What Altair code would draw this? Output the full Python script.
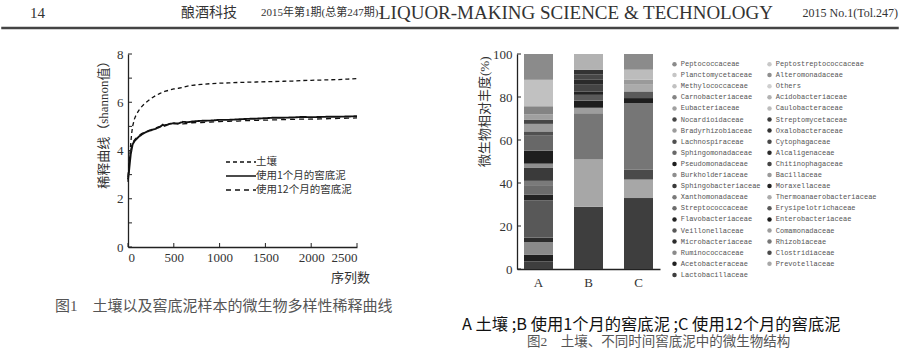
import altair as alt
import pandas as pd

# ---------------- Figure 1 data: rarefaction curves ----------------
seq_x = [0, 10, 20, 30, 40, 50, 60, 70, 80, 100, 120, 150, 180, 200, 250, 300, 350, 380,
         400, 450, 500, 550, 600, 650, 700, 800, 900, 1000, 1100, 1200, 1300, 1400, 1500,
         1600, 1700, 1800, 1900, 2000, 2100, 2200, 2300, 2400, 2500]
soil = [2.7, 3.3, 3.8, 4.3, 4.7, 5.0, 5.15, 5.3, 5.4, 5.55, 5.67, 5.82, 5.94, 6.0, 6.15, 6.27,
        6.37, 6.42, 6.45, 6.5, 6.55, 6.58, 6.62, 6.67, 6.7, 6.74, 6.77, 6.79, 6.8, 6.82, 6.83,
        6.84, 6.85, 6.86, 6.87, 6.88, 6.9, 6.91, 6.92, 6.93, 6.94, 6.96, 6.98]
mud_1m = [2.8, 3.1, 3.5, 3.85, 4.05, 4.25, 4.32, 4.38, 4.43, 4.5, 4.58, 4.66, 4.73, 4.77, 4.84,
          4.9, 4.98, 5.07, 5.02, 5.1, 5.13, 5.12, 5.19, 5.17, 5.2, 5.23, 5.24, 5.27, 5.27, 5.29,
          5.31, 5.32, 5.34, 5.36, 5.36, 5.37, 5.39, 5.38, 5.39, 5.4, 5.4, 5.41, 5.42]
mud_12m = [2.9, 3.3, 3.7, 4.0, 4.2, 4.3, 4.38, 4.43, 4.48, 4.55, 4.62, 4.7, 4.76, 4.8, 4.86,
           4.93, 5.0, 5.05, 5.06, 5.08, 5.12, 5.1, 5.1, 5.12, 5.15, 5.16, 5.18, 5.2, 5.21, 5.22,
           5.24, 5.25, 5.26, 5.27, 5.28, 5.29, 5.3, 5.3, 5.31, 5.32, 5.33, 5.34, 5.35]
series_names = ["土壤", "使用1个月的窖底泥", "使用12个月的窖底泥"]
x_tick_vals = [0, 500, 1000, 1500, 2000, 2500]
y_tick_vals = [0, 1, 2, 3, 4, 5, 6, 7, 8]

# ---------------- Figure 2 data: community structure ----------------
samples = ["A", "B", "C"]
legend_col1 = ["Peptococcaceae", "Planctomycetaceae", "Methylococcaceae", "Carnobacteriaceae",
               "Eubacteriaceae", "Nocardioidaceae", "Bradyrhizobiaceae", "Lachnospiraceae",
               "Sphingomonadaceae", "Pseudomonadaceae", "Burkholderiaceae", "Sphingobacteriaceae",
               "Xanthomonadaceae", "Streptococcaceae", "Flavobacteriaceae", "Veillonellaceae",
               "Microbacteriaceae", "Ruminococcaceae", "Acetobacteraceae", "Lactobacillaceae"]
legend_col2 = ["Peptostreptococcaceae", "Alteromonadaceae", "Others", "Acidobacteriaceae",
               "Caulobacteraceae", "Streptomycetaceae", "Oxalobacteraceae", "Cytophagaceae",
               "Alcaligenaceae", "Chitinophagaceae", "Bacillaceae", "Moraxellaceae",
               "Thermoanaerobacteriaceae", "Erysipelotrichaceae", "Enterobacteriaceae",
               "Comamonadaceae", "Rhizobiaceae", "Clostridiaceae", "Prevotellaceae"]

# stacking order, bottom -> top
stack_order = ["Lactobacillaceae", "Acetobacteraceae", "Ruminococcaceae", "Microbacteriaceae",
               "Veillonellaceae", "Flavobacteriaceae", "Streptococcaceae", "Xanthomonadaceae",
               "Sphingobacteriaceae", "Burkholderiaceae", "Pseudomonadaceae", "Sphingomonadaceae",
               "Lachnospiraceae", "Bradyrhizobiaceae", "Nocardioidaceae", "Eubacteriaceae",
               "Carnobacteriaceae", "Prevotellaceae", "Clostridiaceae", "Rhizobiaceae",
               "Comamonadaceae", "Enterobacteriaceae", "Erysipelotrichaceae",
               "Thermoanaerobacteriaceae", "Moraxellaceae", "Bacillaceae", "Chitinophagaceae",
               "Alcaligenaceae", "Cytophagaceae", "Oxalobacteraceae", "Caulobacteraceae",
               "Acidobacteriaceae", "Streptomycetaceae", "Others", "Alteromonadaceae",
               "Peptostreptococcaceae", "Methylococcaceae", "Planctomycetaceae", "Peptococcaceae"]
abund_A = [3.5, 3.2, 5.8, 2.0, 17.5, 2.5, 4.5, 2.0, 6.0, 2.0, 6.0, 7.0, 2.0, 3.5, 2.0, 2.5, 3.7,
           0, 0, 0, 0, 0, 0, 0, 0, 0, 0, 0, 0, 0, 0, 0, 0, 0, 0, 0, 12.3, 0, 12.0]
abund_B = [29.0, 0, 0, 0, 0, 0, 0, 0, 0, 0, 0, 0, 0, 0, 0, 0, 0,
           21.9, 0, 21.6, 2.5, 3.3, 2.7, 0, 1.6, 0, 3.1, 2.3, 2.4, 2.3, 0, 7.3, 0, 0, 0, 0, 0, 0, 0]
abund_C = [33.0, 0, 0, 0, 0, 0, 0, 0, 0, 0, 0, 0, 0, 0, 0, 0, 0,
           8.6, 4.6, 31.0, 0, 2.3, 3.1, 3.1, 0, 2.3, 0, 0, 0, 0, 4.7, 0, 0, 0, 0, 0, 0, 0, 7.3]
family_gray = {
    "Lactobacillaceae": "#3e3e3e", "Acetobacteraceae": "#202020", "Ruminococcaceae": "#8a8a8a",
    "Microbacteriaceae": "#2c2c2c", "Veillonellaceae": "#585858", "Flavobacteriaceae": "#232323",
    "Streptococcaceae": "#6c6c6c", "Xanthomonadaceae": "#7a7a7a", "Sphingobacteriaceae": "#3a3a3a",
    "Burkholderiaceae": "#8e8e8e", "Pseudomonadaceae": "#1e1e1e", "Sphingomonadaceae": "#686868",
    "Lachnospiraceae": "#505050", "Bradyrhizobiaceae": "#9b9b9b", "Nocardioidaceae": "#464646",
    "Eubacteriaceae": "#a0a0a0", "Carnobacteriaceae": "#848484", "Prevotellaceae": "#a7a7a7",
    "Clostridiaceae": "#4a4a4a", "Rhizobiaceae": "#767676", "Comamonadaceae": "#9d9d9d",
    "Enterobacteriaceae": "#1d1d1d", "Erysipelotrichaceae": "#5a5a5a",
    "Thermoanaerobacteriaceae": "#ababab", "Moraxellaceae": "#232323", "Bacillaceae": "#9a9a9a",
    "Chitinophagaceae": "#444444", "Alcaligenaceae": "#2a2a2a", "Cytophagaceae": "#474747",
    "Oxalobacteraceae": "#333333", "Caulobacteraceae": "#bcbcbc", "Acidobacteriaceae": "#b2b2b2",
    "Streptomycetaceae": "#3c3c3c", "Others": "#cfcfcf", "Alteromonadaceae": "#8f8f8f",
    "Peptostreptococcaceae": "#c8c8c8", "Methylococcaceae": "#c1c1c1",
    "Planctomycetaceae": "#c6c6c6", "Peptococcaceae": "#8b8b8b",
}
bar_y_ticks = [0, 20, 40, 60, 80, 100]

# ---------------- text ----------------
page_no = "14"
head_journal = "酿酒科技"
head_issue = "2015年第1期(总第247期)-"
head_title = "LIQUOR-MAKING SCIENCE & TECHNOLOGY"
head_right = "2015 No.1(Tol.247)"
cap1 = "图1\u3000土壤以及窖底泥样本的微生物多样性稀释曲线"
cap2a = "A 土壤 ;B 使用1个月的窖底泥 ;C 使用12个月的窖底泥"
cap2b = "图2\u3000土壤、不同时间窖底泥中的微生物结构"

SERIF = "Liberation Serif, Noto Sans CJK SC"
CJK = "Noto Sans CJK SC"
MONO = "Liberation Mono"

# ---------------- build tables ----------------
rows = []
for name, ys in zip(series_names, [soil, mud_1m, mud_12m]):
    for x, y in zip(seq_x, ys):
        rows.append({"seq": x, "shannon": y, "series": name})
line_df = pd.DataFrame(rows)

bar_rows = []
for s, vals in zip(samples, [abund_A, abund_B, abund_C]):
    for rank, (fam, v) in enumerate(zip(stack_order, vals)):
        bar_rows.append({"sample": s, "family": fam, "abundance": v, "rank": rank})
bar_df = pd.DataFrame(bar_rows)

legend_order = legend_col1 + legend_col2          # Vega fills legend columns top-down
legend_colors = [family_gray[f] for f in legend_order]

one = alt.Data(values=[{"k": 1}])


def label(text, x, y, font, size, color, align="left"):
    return alt.Chart(one).mark_text(text=text, font=font, fontSize=size, color=color,
                                    align=align, baseline="middle").encode(
        x=alt.value(x), y=alt.value(y))


# origin of every pixel value below = top-left of figure 1's plot area (128, 54)
# ---------------- figure 1 ----------------
W1, H1 = 229, 193
dash_scale = alt.Scale(domain=series_names, range=[[4, 3], [1, 0], [5, 4]])
x1 = alt.X("seq:Q", scale=alt.Scale(domain=[0, 2500], nice=False),
           axis=alt.Axis(values=x_tick_vals, format="d", title="序列数", titleX=222, titleY=30,
                         titleAlign="center", titleBaseline="middle", labelPadding=4,
                         ticks=False, tickSize=0, grid=False))
y1 = alt.Y("shannon:Q", scale=alt.Scale(domain=[0, 8], nice=False),
           axis=alt.Axis(values=y_tick_vals, title="稀释曲线（shannon值）", titleX=-25, titleY=0,
                         titleAlign="right", titleBaseline="middle", titleAngle=270,
                         labelPadding=5, ticks=False, tickSize=0, grid=False))
dash_enc = alt.StrokeDash(
    "series:N", scale=dash_scale, sort=series_names, title=None,
    legend=alt.Legend(orient="none", legendX=107, legendY=102, symbolType="M-3,0H3",
                      symbolSize=100, symbolStrokeWidth=1.3, symbolStrokeColor="#111",
                      labelOffset=9, labelFont=CJK, labelFontSize=10.5, labelColor="#333",
                      rowPadding=2, padding=0))
base1 = alt.Chart(line_df).encode(x=x1, y=y1, strokeDash=dash_enc)
dashed = base1.transform_filter(
    alt.FieldOneOfPredicate(field="series", oneOf=[series_names[0], series_names[2]])
).mark_line(color="#111", strokeWidth=1.3)
solid = base1.transform_filter(
    alt.FieldEqualPredicate(field="series", equal=series_names[1])
).mark_line(color="#111", strokeWidth=1.9)
ytick1 = alt.Chart(pd.DataFrame({"shannon": y_tick_vals})).mark_rule(
    color="#222", strokeWidth=1).encode(y="shannon:Q", x=alt.value(0), x2=alt.value(4))
xtick1 = alt.Chart(pd.DataFrame({"seq": x_tick_vals})).mark_rule(
    color="#222", strokeWidth=1).encode(x="seq:Q", y=alt.value(H1), y2=alt.value(H1 - 4))

# page frame: header, page anchors, caption of figure 1
top_anchor = alt.Chart(one).mark_rule(color="white", strokeWidth=1).encode(
    x=alt.value(-127.5), x2=alt.value(771.5), y=alt.value(-53.5))
bottom_anchor = alt.Chart(one).mark_rule(color="white", strokeWidth=1).encode(
    x=alt.value(-127.5), x2=alt.value(771.5), y=alt.value(301.5))
head_rule = alt.Chart(one).mark_rule(color="#444", strokeWidth=2.5).encode(
    x=alt.value(-126.75), x2=alt.value(770.75), y=alt.value(-26))
header = [
    label(page_no, -98, -41, SERIF, 15, "#333"),
    label(head_journal, 53, -41, CJK, 14, "#333"),
    label(head_issue, 133, -41, SERIF, 11, "#333"),
    label(head_title, 251, -41, SERIF, 19, "#333"),
    label(head_right, 770, -41, SERIF, 12, "#333", align="right"),
]
caption1 = label(cap1, -73, 252, SERIF, 15, "#555")

fig1 = alt.layer(top_anchor, bottom_anchor, head_rule, *header, caption1,
                 dashed, solid, ytick1, xtick1).properties(width=W1, height=H1)

# ---------------- figure 2 ----------------
W2, H2 = 143, 215
x2 = alt.X("sample:N", sort=samples,
           scale=alt.Scale(paddingInner=0.42, paddingOuter=0.14),
           axis=alt.Axis(title=None, labelAngle=0, labelPadding=7, ticks=False, tickSize=0))
y2 = alt.Y("abundance:Q", stack="zero", scale=alt.Scale(domain=[0, 100], nice=False),
           axis=alt.Axis(values=bar_y_ticks, title="微生物相对丰度(%)", titleX=-33, titleY=2,
                         titleAlign="right", titleBaseline="middle", titleAngle=270,
                         labelPadding=5, ticks=False, tickSize=0, grid=False))
color2 = alt.Color(
    "family:N", title=None,
    scale=alt.Scale(domain=legend_order, range=legend_colors),
    legend=alt.Legend(orient="none", legendX=543, legendY=6.5, columns=2, columnPadding=5,
                      rowPadding=3.1, symbolType="circle", symbolSize=20, symbolStrokeWidth=0,
                      labelOffset=2.75, labelFont=MONO, labelFontSize=7, labelColor="#555",
                      labelLimit=200, symbolLimit=50, padding=0))
bars = alt.Chart(bar_df).mark_bar().encode(
    x=x2, y=y2, color=color2, order=alt.Order("rank:Q", sort="ascending"))
ytick2 = alt.Chart(pd.DataFrame({"abundance": bar_y_ticks})).mark_rule(
    color="#222", strokeWidth=1).encode(y="abundance:Q", x=alt.value(0), x2=alt.value(4))
caption2a = label(cap2a, -55, 271, CJK, 16.3, "#111")
caption2b = label(cap2b, 10, 288, SERIF, 13.5, "#555")
fig2 = alt.layer(bars, ytick2, caption2a, caption2b).properties(width=W2, height=H2)

chart = alt.hconcat(fig1, fig2, spacing=160, bounds="flush").properties(
    padding=0, background="white"
).configure_view(strokeWidth=0).configure_axis(
    domainColor="#222", domainWidth=1.3, labelFont=SERIF, labelFontSize=13,
    labelColor="#333", titleFont=SERIF, titleFontSize=13, titleFontWeight="normal",
    titleColor="#333"
)

chart.save("out.html", embed_options={"renderer": "svg", "actions": False})
